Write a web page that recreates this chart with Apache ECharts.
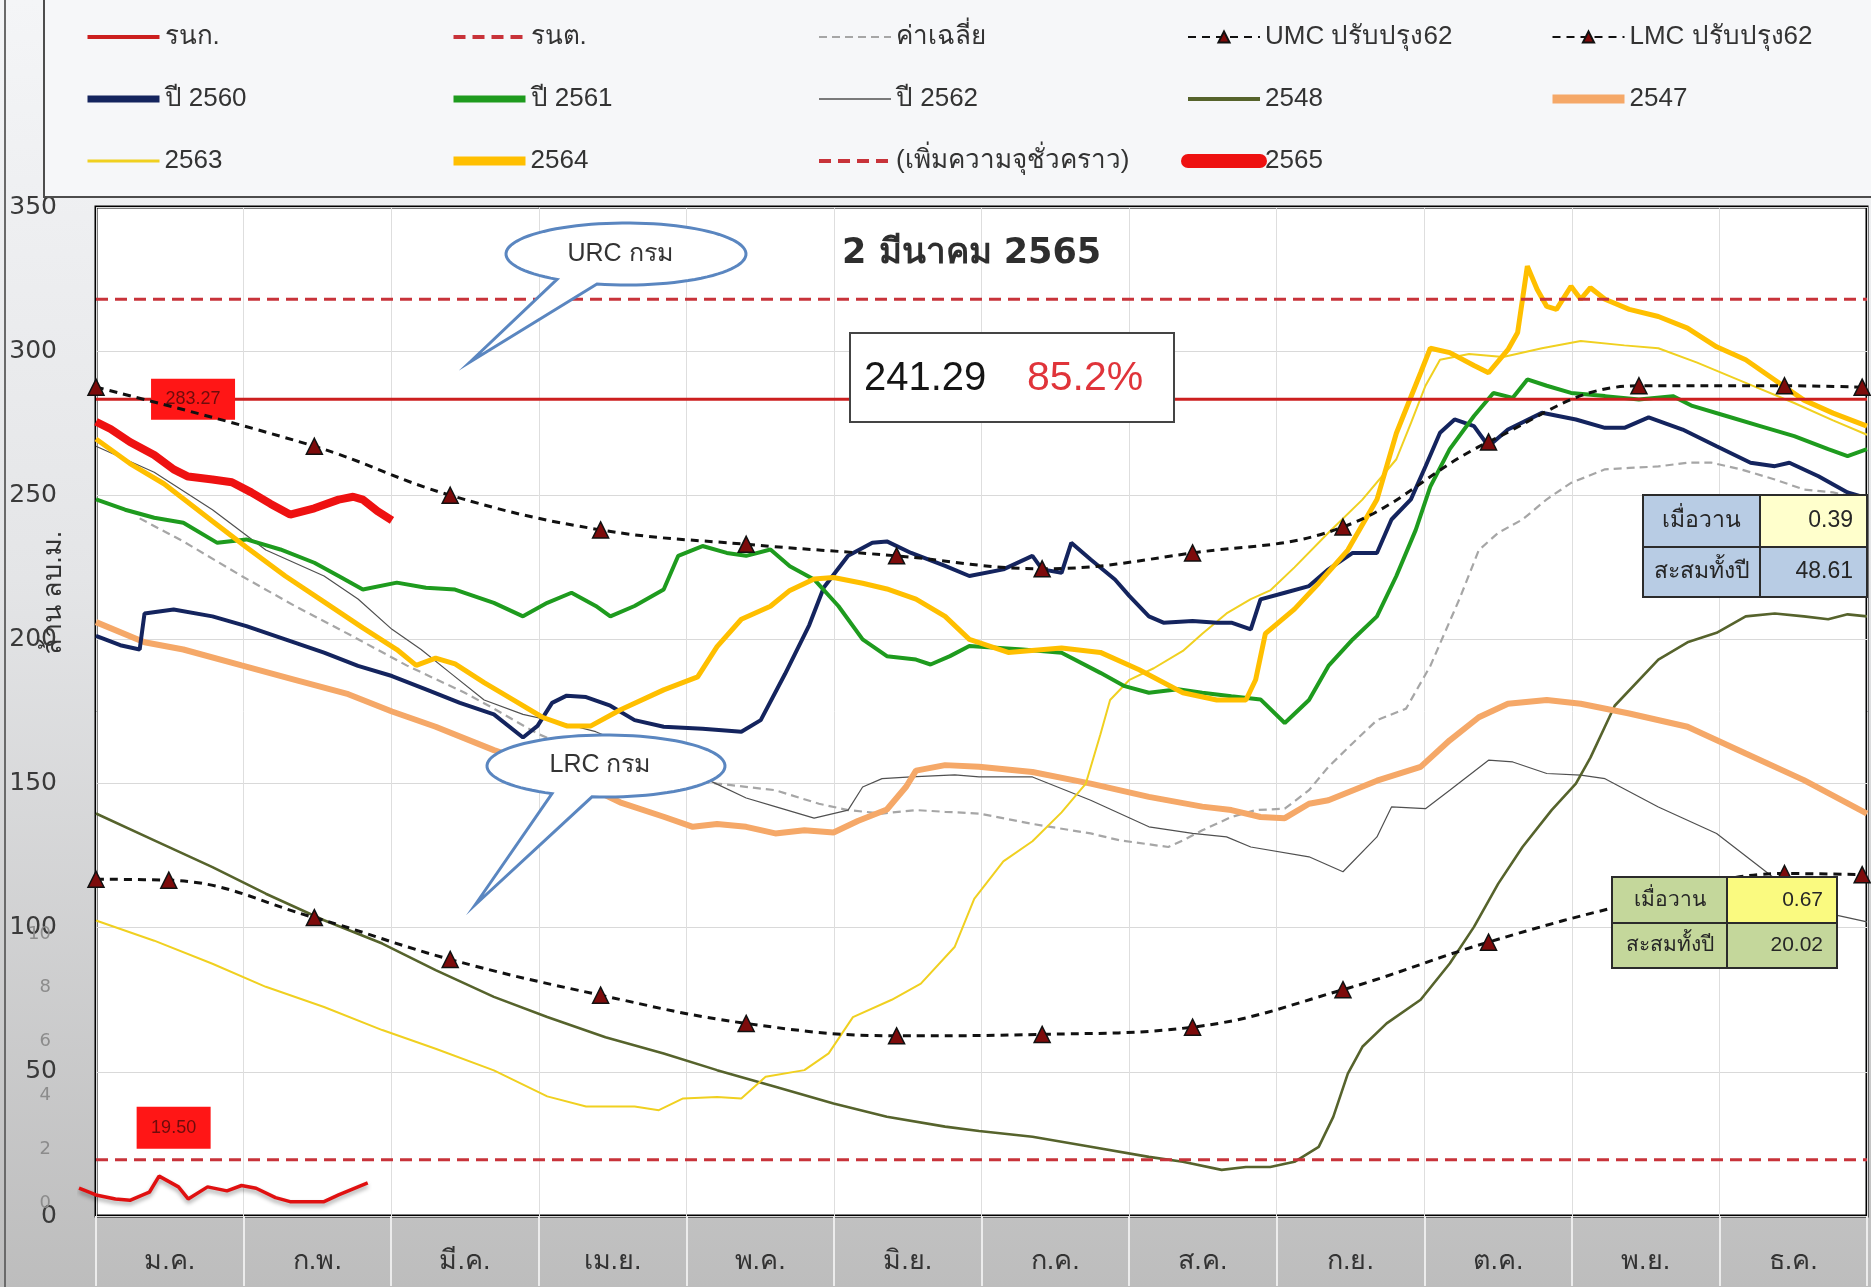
<!DOCTYPE html>
<html>
<head>
<meta charset="utf-8">
<title>ปริมาณน้ำในอ่าง 2565</title>
<script src="https://cdn.jsdelivr.net/npm/echarts@6/dist/echarts.min.js"></script>
<style>
    html, body { margin: 0; padding: 0; }
    #chart { width: 1871px; height: 1287px; }
</style>
</head>
<body>
<div id="chart"></div>
<script>
    // เดือน (แกน x)
    var months = ['ม.ค.', 'ก.พ.', 'มี.ค.', 'เม.ย.', 'พ.ค.', 'มิ.ย.', 'ก.ค.', 'ส.ค.', 'ก.ย.', 'ต.ค.', 'พ.ย.', 'ธ.ค.'];

    // ระดับควบคุม (ล้าน ลบ.ม.)
    var levelUpper = 283.27;   // รนก.
    var levelLower = 19.50;    // รนต.
    var levelTemp = 318;       // เพิ่มความจุชั่วคราว

    // ข้อมูลรายวัน [วันที่ของปี, ปริมาตร]
    var data2565 = [[0,275.5],[3,273],[7,268.5],[12,264],[16,259],[19,256.5],[24,255.5],[28,254.5],[32,251],[36,247],[40,243.3],[45,245.5],[50,248.5],[53,249.5],[55,248.5],[58,244.5],[61,241.3]];
    var data2564 = [[0,269.5],[7,261],[14,254],[24,241],[31,232],[39,222],[47,213],[55,204],[62,196.5],[66,191],[70,193.5],[74,191.5],[80,185],[86,179],[92,173],[97,170],[102,170],[108,175.5],[117,182.5],[124,187],[128,197.5],[133,207],[139,211.5],[143,217],[148,221],[152,221.5],[158,219.5],[163,217.5],[169,214],[175,208],[180,200],[188,195.5],[199,197],[207,195.5],[215,189.5],[224,181.5],[231,179],[237,179],[239,186],[241,202],[247,210.5],[252,219.5],[258,231],[264,248.5],[268,271.5],[273,292.5],[275,301],[279,299.5],[284,295],[287,292.5],[291,300.5],[293,306.5],[295,329.5],[297,321.5],[299,315.5],[301,314.5],[304,322.5],[306,318],[308,322],[311,318],[316,314.5],[322,312],[328,308],[334,301.5],[340,297],[346,290],[352,283],[358,278.5],[365,274]];
    var data2563 = [[0,102.5],[12,95.5],[24,87.5],[35,79.5],[47,72.5],[59,64.5],[70,58],[82,50.5],[93,41.5],[101,38],[111,38],[116,36.7],[121,40.8],[128,41.3],[133,40.8],[138,48.3],[146,50.6],[151,56.4],[156,69],[164,75],[170,80.6],[177,93.4],[181,110],[187,123],[193,130],[199,140],[204,150],[207,167],[209,179],[213,186],[218,190],[224,196],[228,202],[233,209],[238,214],[242,217],[247,225],[254,237],[261,248.5],[268,262.5],[271,275],[274,288],[277,297],[283,299],[290,298],[298,301],[306,303.5],[315,302],[322,301],[330,296],[340,289],[350,282],[358,276],[365,271]];
    var data2562 = [[0,267],[12,258],[24,245],[35,231],[47,222],[54,214],[61,203.5],[67,196.5],[73,188.4],[80,179],[88,174],[96,171],[103,168],[110,163],[118,157],[127,150.6],[134,145],[140,142],[148,138],[155,140.8],[158,148.8],[162,151.7],[168,152.3],[177,153],[182,152.3],[193,152.3],[205,144.2],[217,135],[226,132.7],[233,131.5],[238,128],[250,124.6],[257,119.4],[264,131.5],[267,141.9],[274,141.3],[279,147.7],[287,158.1],[292,157.5],[299,153.5],[306,152.9],[311,151.7],[322,141.9],[334,132.7],[343,121],[350,111.8],[357,105],[365,102]];
    var data2561 = [[0,248.6],[6,245],[12,242.2],[18,240.5],[25,233.5],[31,234.7],[38,231.2],[45,226.6],[50,222],[55,217.3],[62,219.7],[68,217.9],[74,217.3],[82,212.7],[88,208],[93,212.7],[98,216.2],[103,211.6],[106,208],[111,211.6],[117,217.3],[120,229],[125,232.4],[130,230],[134,229],[139,231.2],[143,225.4],[148,220.8],[153,211.6],[158,200],[163,194.2],[169,193],[172,191.3],[176,194.2],[180,197.7],[191,196.5],[199,195.4],[207,188.4],[212,183.8],[217,181.5],[223,182.7],[228,181.5],[234,180.3],[240,179.2],[245,171],[250,179],[254,190.8],[259,200],[264,208],[268,222],[272,238],[275,253],[279,266],[284,277.5],[288,285.5],[292,283.8],[295,290.2],[299,288],[304,285.5],[311,284.4],[318,283.2],[325,284.4],[329,281],[336,277.5],[343,274],[350,270.5],[357,266],[361,263.6],[365,266]];
    var data2560 = [[0,201.2],[5,198],[9,196.5],[10,209],[16,210.4],[24,208],[31,204.6],[39,200],[47,195.4],[54,190.8],[61,187.3],[68,182.7],[75,178],[82,174],[88,166],[91,170],[94,178],[97,180.5],[101,180],[106,177],[111,172],[117,169.7],[125,169],[133,168],[137,172],[142,188],[147,205],[150,218],[155,229],[160,233.5],[163,234],[168,230],[175,225.5],[180,222],[187,224.3],[193,229],[195,224.3],[199,223.1],[201,233.5],[205,227.7],[210,220.8],[213,215],[217,208],[220,205.8],[226,206.4],[231,205.8],[234,205.8],[238,203.5],[240,213.9],[245,216.2],[250,218.5],[254,224.3],[259,230],[264,230],[267,241.6],[271,248.6],[274,260],[277,271.7],[280,276.3],[284,274],[287,267],[291,272.8],[298,278.6],[305,276.3],[311,273.4],[315,273.4],[320,277],[327,272.8],[334,267],[341,261.3],[346,260.1],[349,261.3],[355,256.6],[361,251],[365,249]];
    var data2548 = [[0,139.6],[12,130.3],[24,121],[35,111.8],[47,102.6],[59,94.5],[70,85.3],[82,76],[93,69],[105,62],[117,56.4],[128,50.6],[140,44.8],[152,39],[163,34.4],[175,31],[182,29.5],[193,27.5],[205,24],[217,20.5],[224,18.8],[232,16],[237,17],[242,17],[247,18.8],[252,24],[255,34.4],[258,49.4],[261,58.7],[266,66.8],[273,75],[279,87.6],[284,100.3],[289,115.3],[294,128],[300,140.8],[305,150],[308,159],[313,177],[322,193],[328,199],[334,202.3],[340,208],[346,209],[352,208],[357,207],[361,208.7],[365,208]];
    var data2547 = [[0,206],[10,199],[18,196.5],[30,191],[41,186],[52,181],[61,175],[70,169.7],[82,161.6],[90,157],[100,150],[108,143.5],[117,138.5],[123,135],[128,136],[134,135],[140,132.7],[146,133.8],[152,133],[157,137],[163,141],[167,149],[169,154.5],[175,156.4],[182,155.8],[193,154],[205,150],[217,145.4],[228,142],[234,140.8],[240,138.4],[245,138],[250,143],[254,144.2],[264,151],[273,155.8],[279,165],[285,173],[291,177.7],[299,179],[306,177.7],[316,174.3],[328,169.7],[340,160.4],[352,151.2],[365,139.6]];
    var dataAvg = [[9,242],[18,234],[30,222],[41,211.6],[53,201],[64,191],[76,181.5],[82,176],[91,167.3],[100,161],[110,155],[120,152],[128,150],[140,147.7],[149,143],[155,140.8],[162,139.6],[169,140.8],[175,140.2],[182,139.6],[193,136],[205,132.7],[211,130.3],[221,128],[224,130.3],[228,133.8],[234,138.4],[239,140.8],[245,141.3],[250,147.7],[254,155.8],[259,164],[264,172],[270,176],[275,190.8],[281,214],[285,231],[289,237],[294,241.6],[299,248.6],[304,254.3],[311,259],[316,259.5],[322,260],[328,261.3],[333,261.3],[339,259],[346,255.5],[352,252],[358,251],[365,248.6]];

    // เกณฑ์ควบคุม ปรับปรุง 62
    var dataUMC = [[0,287.5],[45,267],[73,250],[104,238],[134,233],[165,229],[195,224.5],[226,230],[257,239],[287,268.5],[318,288],[348,288],[364,287.5]];
    var dataLMC = [[0,116.8],[15,116.5],[45,103.5],[73,89],[104,76.6],[134,66.8],[165,62.5],[195,63],[226,65.5],[257,78.5],[287,95],[318,109],[348,118.8],[364,118.4]];

    // น้ำไหลเข้า (แกนรอง 0-10)
    var dataInflow = [[-3.5,0.55],[0,0.3],[4,0.15],[7,0.1],[11,0.4],[13,1.0],[17,0.6],[19,0.15],[23,0.6],[27,0.45],[30,0.65],[33,0.55],[37,0.2],[40,0.05],[47,0.05],[50,0.3],[54,0.6],[56,0.75]];

    // ตารางข้อมูลประจำวัน
    var currentVolume = '241.29';
    var currentPercent = '85.2%';
    var reportDate = '2 มีนาคม 2565';
    var tableInLabels = ['เมื่อวาน', 'สะสมทั้งปี'];
    var tableInValues = ['0.39', '48.61'];
    var tableOutValues = ['0.67', '20.02'];

    var thaiFont = '"Liberation Sans Narrow", "Liberation Sans", "Noto Sans", sans-serif';

    function lineSeries(name, data, color, width, dash, z) {
        return {
            name: name,
            type: 'line',
            xAxisIndex: 1,
            yAxisIndex: 0,
            data: data,
            symbol: 'none',
            z: z || 2,
            lineStyle: {color: color, width: width, type: dash || 'solid'},
            itemStyle: {color: color}
        }
    }

    function ruleSeries(name, data) {
        return {
            name: name,
            type: 'line',
            xAxisIndex: 1,
            yAxisIndex: 0,
            data: data,
            smooth: 0.4,
            symbol: 'triangle',
            symbolSize: 16,
            z: 5,
            lineStyle: {color: '#111', width: 3, type: [8, 6]},
            itemStyle: {color: '#7d0b0b', borderColor: '#111', borderWidth: 1.5}
        }
    }

    // speech bubble outline: ellipse + tail as one polygon
    function bubble(cx, cy, rx, ry, bx1, bx2, tipX, tipY) {
        var t1 = Math.acos((bx1 - cx) / rx);
        var t2 = Math.acos((bx2 - cx) / rx) + Math.PI * 2;
        var pts = [[tipX, tipY]];
        var n = 90;
        for (var i = 0; i <= n; i++) {
            var t = t1 + (t2 - t1) * i / n;
            pts.push([cx + rx * Math.cos(t), cy + ry * Math.sin(t)]);
        }
        return pts;
    }

    // ตาราง 2x2 (z ใส่ให้ทุกชิ้น เพราะ group ไม่ส่งต่อ z)
    function table(x, y, colW, rowH, fills, texts, fontSize) {
        var children = [];
        var yy = y;
        for (var r = 0; r < 2; r++) {
            var xx = x;
            for (var c = 0; c < 2; c++) {
                children.push({
                    type: 'rect',
                    z: 30,
                    shape: {x: xx, y: yy, width: colW[c], height: rowH[r]},
                    style: {fill: fills[r][c], stroke: '#2b2b2b', lineWidth: 2}
                });
                children.push({
                    type: 'text',
                    z: 31,
                    x: c === 0 ? xx + colW[c] / 2 : xx + colW[c] - 14,
                    y: yy + rowH[r] / 2,
                    style: {
                        text: texts[r][c],
                        fill: '#262626',
                        fontSize: fontSize,
                        fontFamily: thaiFont,
                        align: c === 0 ? 'center' : 'right',
                        verticalAlign: 'middle'
                    }
                });
                xx += colW[c];
            }
            yy += rowH[r];
        }
        return children;
    }

    // legend columns
    var legendCols = [
        ['รนก.', 'ปี 2560', '2563'],
        ['รนต.', 'ปี 2561', '2564'],
        ['ค่าเฉลี่ย', 'ปี 2562', '(เพิ่มความจุชั่วคราว)'],
        ['UMC ปรับปรุง62', '2548', '2565'],
        ['LMC ปรับปรุง62', '2547']
    ];
    var legendX = [84, 449, 817, 1181, 1548];
    var legendWidth = {
        'รนก.': 4, 'รนต.': 4, '(เพิ่มความจุชั่วคราว)': 4, 'ค่าเฉลี่ย': 2,
        'ปี 2560': 7, 'ปี 2561': 7, 'ปี 2562': 1.5, '2548': 4, '2547': 9,
        '2563': 3, '2564': 9, '2565': 14
    };

    var chart = echarts.init(document.getElementById('chart'));

    var graphics = [
        // กรอบนอก
        {type: 'line', shape: {x1: 5, y1: 0, x2: 5, y2: 1287}, style: {stroke: '#6a6a6a', lineWidth: 2}},
        // กรอบคำอธิบาย
        {type: 'rect', z: 1, shape: {x: 44, y: -2, width: 1832, height: 199}, style: {fill: '#f6f7f9', stroke: '#4d4d4d', lineWidth: 2}},
        // แกน y
        {
            type: 'text', x: 54, y: 593, rotation: Math.PI / 2,
            style: {text: 'ล้าน ลบ.ม.', fontSize: 27, fill: '#333', fontFamily: thaiFont, align: 'center', verticalAlign: 'middle'}
        },
        // URC
        {
            type: 'polygon', z: 20,
            shape: {points: bubble(626, 254, 120, 31, 557, 597, 470, 362)},
            style: {fill: '#fff', stroke: '#5a86c0', lineWidth: 3}
        },
        {type: 'text', z: 21, x: 620, y: 254, style: {text: 'URC กรม', fontSize: 25, fill: '#333', fontFamily: thaiFont, align: 'center', verticalAlign: 'middle'}},
        // LRC
        {
            type: 'polygon', z: 20,
            shape: {points: bubble(606, 766, 119, 31, 552, 592, 475, 905)},
            style: {fill: '#fff', stroke: '#5a86c0', lineWidth: 3}
        },
        {type: 'text', z: 21, x: 600, y: 765, style: {text: 'LRC กรม', fontSize: 25, fill: '#333', fontFamily: thaiFont, align: 'center', verticalAlign: 'middle'}},
        // วันที่
        {type: 'text', z: 21, x: 842, y: 254, style: {text: reportDate, fontSize: 35, fontWeight: 'bold', fill: '#2e2e2e', fontFamily: '"DejaVu Sans", sans-serif', verticalAlign: 'middle'}},
        // ปริมาตรปัจจุบัน
        {type: 'rect', z: 20, shape: {x: 850, y: 333, width: 324, height: 89}, style: {fill: '#fff', stroke: '#444', lineWidth: 2}},
        {type: 'text', z: 21, x: 864, y: 379, style: {text: currentVolume, fontSize: 40, fill: '#151515', fontFamily: 'Liberation Sans', verticalAlign: 'middle'}},
        {type: 'text', z: 21, x: 1027, y: 379, style: {text: currentPercent, fontSize: 41, fill: '#e0343a', fontFamily: 'Liberation Sans', verticalAlign: 'middle'}}
    ];
    graphics = graphics.concat(
        table(1643, 495, [117, 107], [52, 50],
            [['#b8cce4', '#ffffcc'], ['#b8cce4', '#b8cce4']],
            [[tableInLabels[0], tableInValues[0]], [tableInLabels[1], tableInValues[1]]], 23),
        table(1612, 877, [115, 110], [46, 45],
            [['#c4d79b', '#fafa80'], ['#c4d79b', '#c4d79b']],
            [[tableInLabels[0], tableOutValues[0]], [tableInLabels[1], tableOutValues[1]]], 21)
    );

    var option = {
        animation: false,
        backgroundColor: {
            type: 'linear', x: 0, y: 0, x2: 0, y2: 1,
            colorStops: [
                {offset: 0, color: '#f4f5f7'},
                {offset: 0.45, color: '#e4e5e7'},
                {offset: 1, color: '#bdbdbd'}
            ]
        },
        legend: legendCols.map(function (col, i) {
            return {
                orient: 'vertical',
                left: legendX[i],
                top: 24,
                padding: 0,
                itemWidth: 72,
                itemHeight: 14,
                itemGap: 36,
                selectedMode: false,
                data: col.map(function (n) {
                    var item = {name: n};
                    if (legendWidth[n]) {
                        item.lineStyle = {width: legendWidth[n], cap: n === '2565' ? 'round' : 'butt'};
                    }
                    if (n.indexOf('MC') < 0) {
                        item.itemStyle = {opacity: 0};
                    }
                    return item;
                }),
                textStyle: {fontSize: 26, color: '#333', fontFamily: thaiFont}
            }
        }),
        grid: [
            {left: 96, right: 4, top: 207, bottom: 71, show: true, backgroundColor: '#fff', borderColor: '#000', borderWidth: 3},
            // แกนรอง: เริ่มก่อนวันที่ 0 เล็กน้อย (เส้นแดงล่างเริ่มนอกกรอบ)
            {left: 79, right: 4, top: 934, bottom: 84, show: false}
        ],
        xAxis: [
            {
                type: 'category',
                gridIndex: 0,
                data: months,
                boundaryGap: true,
                axisLine: {show: false},
                axisTick: {show: true, length: 70, lineStyle: {color: '#ececec', width: 2}},
                axisLabel: {margin: 32, fontSize: 27, color: '#333', fontFamily: thaiFont},
                splitLine: {show: true, lineStyle: {color: '#dedede'}}
            },
            {type: 'value', gridIndex: 0, min: 0, max: 365, show: false},
            {type: 'value', gridIndex: 1, min: -3.5, max: 365, show: false}
        ],
        yAxis: [
            {
                type: 'value',
                gridIndex: 0,
                min: 0,
                max: 350,
                interval: 50,
                axisLine: {show: false},
                axisTick: {show: false},
                axisLabel: {margin: 39, fontSize: 25, color: '#3a3a3a', fontFamily: 'DejaVu Sans'},
                splitLine: {show: true, lineStyle: {color: '#d9d9d9'}}
            },
            {
                type: 'value',
                gridIndex: 1,
                min: 0,
                max: 10,
                interval: 2,
                axisLine: {show: false},
                axisTick: {show: false},
                axisLabel: {margin: 28, fontSize: 18, color: '#8c8c8c', fontFamily: 'DejaVu Sans'},
                splitLine: {show: false}
            }
        ],
        series: [
            lineSeries('ค่าเฉลี่ย', dataAvg, '#a6a6a6', 2.2, [8, 5]),
            lineSeries('ปี 2562', data2562, '#505050', 1.2),
            lineSeries('2548', data2548, '#56632c', 2.6),
            lineSeries('2547', data2547, '#f5a868', 6),
            lineSeries('2563', data2563, '#f0d020', 2),
            lineSeries('ปี 2560', data2560, '#14245e', 4),
            lineSeries('ปี 2561', data2561, '#1e9b1e', 4),
            lineSeries('2564', data2564, '#ffbf00', 5),
            ruleSeries('UMC ปรับปรุง62', dataUMC),
            ruleSeries('LMC ปรับปรุง62', dataLMC),
            {
                name: 'รนก.',
                type: 'line',
                xAxisIndex: 1,
                yAxisIndex: 0,
                data: [[0, levelUpper], [365, levelUpper]],
                symbol: 'none',
                z: 4,
                lineStyle: {color: '#cc1f1f', width: 3},
                itemStyle: {color: '#cc1f1f'},
                markPoint: {
                    symbol: 'rect',
                    symbolSize: [84, 41],
                    itemStyle: {color: '#ff1616'},
                    label: {show: true, color: '#6e0c0c', fontSize: 18, formatter: levelUpper.toFixed(2)},
                    data: [{coord: [20, levelUpper]}]
                }
            },
            {
                name: 'รนต.',
                type: 'line',
                xAxisIndex: 1,
                yAxisIndex: 0,
                data: [[0, levelLower], [365, levelLower]],
                symbol: 'none',
                z: 4,
                lineStyle: {color: '#c8333a', width: 3, type: [12, 7]},
                itemStyle: {color: '#c8333a'},
                markPoint: {
                    symbol: 'rect',
                    symbolSize: [74, 42],
                    symbolOffset: [0, -32],
                    itemStyle: {color: '#ff1616'},
                    label: {show: true, color: '#6e0c0c', fontSize: 18, formatter: levelLower.toFixed(2)},
                    data: [{coord: [16, levelLower]}]
                }
            },
            lineSeries('(เพิ่มความจุชั่วคราว)', [[0, levelTemp], [365, levelTemp]], '#c8333a', 3, [12, 7], 4),
            lineSeries('2565', data2565, '#ee1111', 8, null, 8),
            {
                name: 'น้ำไหลเข้า',
                type: 'line',
                xAxisIndex: 2,
                yAxisIndex: 1,
                data: dataInflow,
                symbol: 'none',
                clip: false,
                z: 6,
                lineStyle: {color: '#e01010', width: 3.5, shadowColor: 'rgba(0,0,0,0.35)', shadowBlur: 4, shadowOffsetY: 3},
                itemStyle: {color: '#e01010'}
            }
        ],
        graphic: graphics
    };

    chart.setOption(option);
    window.addEventListener('resize', function () {
        chart.resize();
    });
</script>
</body>
</html>
